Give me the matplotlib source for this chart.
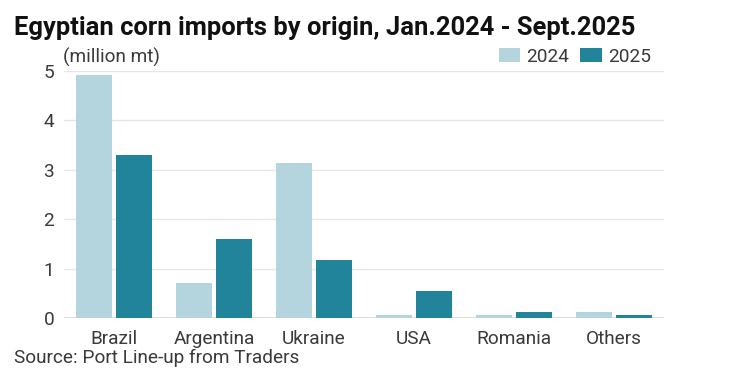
import matplotlib
matplotlib.use("Agg")
import matplotlib.pyplot as plt
import numpy as np

categories = ["Brazil", "Argentina", "Ukraine", "USA", "Romania", "Others"]
series_labels = ["2024", "2025"]
values_2024 = [4.92, 0.71, 3.13, 0.06, 0.06, 0.12]
values_2025 = [3.29, 1.60, 1.18, 0.55, 0.13, 0.06]
yticks = [0, 1, 2, 3, 4, 5]

c24 = "#b5d5de"
c25 = "#22849a"
tc = "#3a3a3a"
fs = 13.7

plt.rcParams['font.family'] = ['Roboto', 'DejaVu Sans']

fig = plt.figure(figsize=(7.32, 3.88), dpi=100)
ax = fig.add_axes([64/732, 70/388, 600/732, (318-71)/388])

x = np.arange(len(categories))
w = 0.36
b1 = ax.bar(x - 0.2, values_2024, w, color=c24, label=series_labels[0], zorder=3)
b2 = ax.bar(x + 0.2, values_2025, w, color=c25, label=series_labels[1], zorder=3)

ax.set_xlim(-0.5, 5.5)
ax.set_ylim(0, 5)
ax.set_yticks(yticks)
ax.set_yticklabels([str(t) for t in yticks])
ax.set_xticks(x)
ax.set_xticklabels(categories)
ax.tick_params(axis='both', length=0, labelsize=fs, colors=tc)
ax.tick_params(axis='y', pad=7)
ax.tick_params(axis='x', pad=9)
for lab in ax.get_yticklabels():
    lab.set_va('center_baseline')
for s in ax.spines.values():
    s.set_visible(False)
ax.grid(axis='y', color="#e6e6e6", linewidth=1, zorder=0)
ax.axhline(0, color="#d9d9d9", linewidth=1.2, zorder=2)

fig.text(14/732, 1 - 28/388, "Egyptian corn imports by origin, Jan.2024 - Sept.2025",
         fontsize=18.4, fontweight='bold', va='center', ha='left', color="#111111")
fig.text(63/732, 1 - 57/388, "(million mt)", fontsize=fs,
         va='center', ha='left', color=tc)
fig.text(14/732, 1 - 358/388, "Source: Port Line-up from Traders", fontsize=fs,
         va='center', ha='left', color=tc)

leg = fig.legend(handles=[b1, b2], labels=series_labels, ncol=2, frameon=False,
                 loc='center right', bbox_to_anchor=(651/732, 1 - 57/388),
                 prop={'size': fs}, handlelength=1.15, handleheight=0.75,
                 handletextpad=0.3, columnspacing=0.6, borderaxespad=0, borderpad=0)
for t in leg.get_texts():
    t.set_color(tc)

fig.savefig("out.png", dpi=100)
